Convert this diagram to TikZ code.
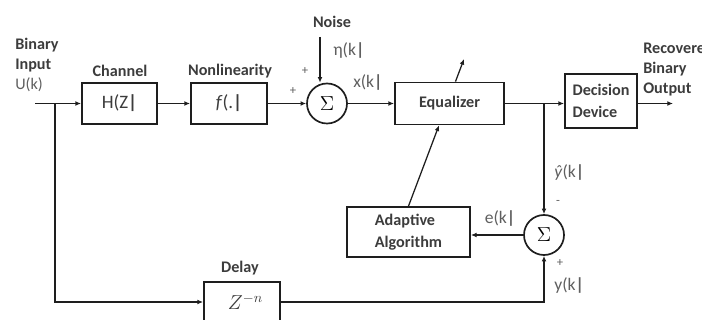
\documentclass[tikz,border=0pt]{standalone}
\usepackage{fontspec}
\setmainfont{Carlito}
\usetikzlibrary{arrows.meta, positioning, calc}
\definecolor{tinta}{RGB}{30,30,30}
\definecolor{gristexto}{RGB}{60,60,60}
\definecolor{grisclaro}{RGB}{95,95,95}

\begin{document}
\begin{tikzpicture}[x=0.025cm, y=-0.025cm,
                bloque/.style={
                    rectangle,
                    draw=tinta,
                    line width=1.3pt,
                    align=left,
                    font=\fontsize{11.5}{15.5}\selectfont\bfseries,
                    text=gristexto
                },
                suma/.style={
                    circle,
                    draw=tinta,
                    line width=1.2pt,
                    minimum size=1cm,
                    inner sep=0pt,
                    font=\fontsize{14}{16}\selectfont
                },
                etiq/.style={
                    font=\fontsize{11.5}{14.2}\selectfont\bfseries,
                    text=gristexto,
                    align=left,
                    inner sep=0pt
                },
                senal/.style={
                    font=\fontsize{12.5}{14}\selectfont,
                    text=grisclaro,
                    inner sep=0pt
                },
                linea/.style={draw=tinta, line width=0.9pt},
                flecha/.style={linea, -{Latex[length=4pt, width=3.4pt]}}
            ]
                \useasboundingbox (0,0) rectangle (702,320);
                % bloques
                \node[bloque, minimum width=1.875cm, minimum height=1.025cm, font=\fontsize{13.5}{16}\selectfont] (canal) at (119.5,103.5) {H(Z\textbf{|}};
                \node[bloque, minimum width=1.9cm, minimum height=1.025cm, font=\fontsize{13.5}{16}\selectfont] (nolin) at (229,103.5) {\textit{f}(.\textbf{|}};
                \node[suma] (suma1) at (327,103.5) {$\Sigma$};
                \node[bloque, minimum width=2.725cm, minimum height=1.05cm] (ecual) at (449.5,103.5) {Equalizer};
                \node[bloque, minimum width=1.8cm, minimum height=1.35cm] (decision) at (601,101) {Decision\\Device};
                \node[bloque, minimum width=3.075cm, minimum height=1.25cm] (adapt) at (408.5,232) {Adaptive\\Algorithm};
                \node[suma] (suma2) at (544,235) {$\Sigma$};
                \node[bloque, minimum width=1.9cm, minimum height=1.0cm, font=\fontsize{14}{16}\selectfont] (retardo) at (242,302) {\hspace{5pt}$Z^{-n}$};
                % puntos de union
                \coordinate (entrada) at (35,103.5);
                \coordinate (nodo1) at (55,103.5);
                \coordinate (nodo2) at (544,103.5);
                \coordinate (salida) at (673,103.5);
                \coordinate (ruido) at (320,37);
                \coordinate (punta) at (464,59);
                % textos
                \node[etiq, anchor=north west] (binin) at (15,38) {Binary\\Input\\\mdseries\textcolor{grisclaro}{U(k)}};
                \node[etiq, anchor=north west] (binout) at (643,42) {Recovered\\Binary\\Output};
                \node[etiq] (lcanal) at (120,71) {Channel};
                \node[etiq] (lnolin) at (230,71) {Nonlinearity};
                \node[etiq] (lruido) at (332,22) {Noise};
                \node[etiq] (lretardo) at (240,268) {Delay};
                \node[senal, anchor=west] (eta) at (333,50) {η(k\textbf{|}};
                \node[senal, anchor=west] (xk) at (353,82) {x(k\textbf{|}};
                \node[senal, anchor=west] (yhat) at (554,172) {\textit{ŷ}(k\textbf{|}};
                \node[senal, anchor=west] (yk) at (554,285) {y(k\textbf{|}};
                \node[senal] (ek) at (500,218) {e(k\textbf{|}};
                \node[senal, font=\small] (mas1) at (293,91) {+};
                \node[senal, font=\small] (mas2) at (305,71) {+};
                \node[senal, font=\small] (menos) at (558,202) {-};
                \node[senal, font=\small] (mas3) at (560,263) {+};
                % conexiones
                \draw[linea] (entrada) -- (nodo1);
                \draw[flecha] (nodo1) -- (canal);
                \draw[flecha] (canal) -- (nolin);
                \draw[flecha] (nolin) -- (suma1);
                \draw[flecha] (ruido) -- (ruido |- suma1.north);
                \draw[flecha] (suma1) -- (ecual);
                \draw[linea] (ecual) -- (nodo2);
                \draw[flecha] (nodo2) -- (nodo2 -| decision.west);
                \draw[flecha] (decision.east |- nodo2) -- (salida);
                \draw[flecha] (nodo2) -- (suma2);
                \draw[flecha] (suma2.west) -- (suma2.west -| adapt.east);
                \draw[flecha] (nodo1) |- (retardo);
                \draw[flecha] (retardo.east) -| (suma2.south);
                \draw[flecha] (adapt.north) -- (intersection of adapt.north--punta and ecual.south west--ecual.south east);
                \draw[flecha] (intersection of adapt.north--punta and ecual.north west--ecual.north east) -- (punta);
            \end{tikzpicture}
\end{document}
